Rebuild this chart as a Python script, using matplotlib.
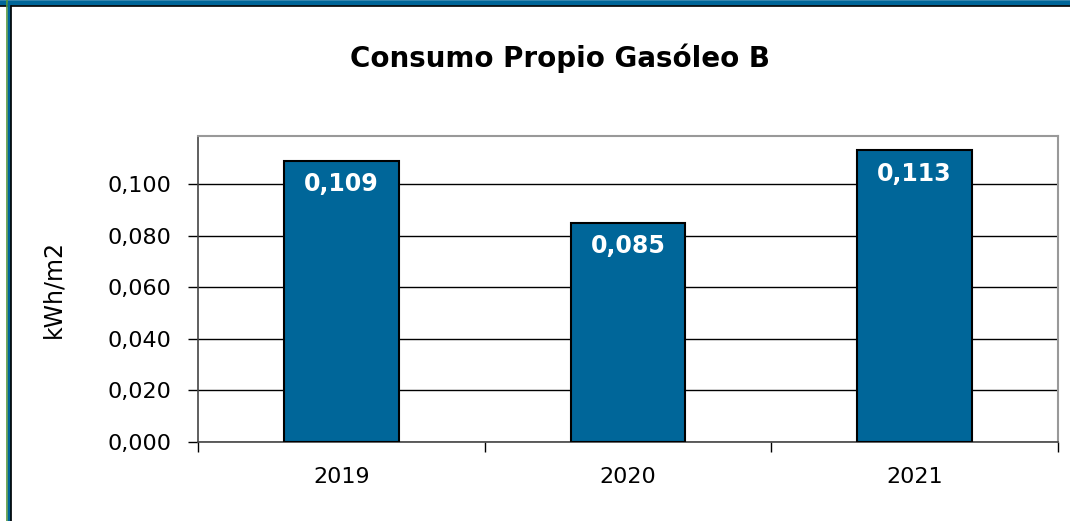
import numpy as np
import matplotlib
matplotlib.use("Agg")
import matplotlib.pyplot as plt
from matplotlib.ticker import FuncFormatter
from matplotlib.lines import Line2D

# datos
years = ["2019", "2020", "2021"]
consumo = [0.109, 0.085, 0.113]
etiquetas = ["0,109", "0,085", "0,113"]

bar_color = "#006699"

fig = plt.figure(figsize=(10.7, 5.21), dpi=100)
ax = fig.add_axes([198 / 1070, 1 - 442 / 521, 860 / 1070, 306 / 521])

x = np.arange(len(years))
bars = ax.bar(x, consumo, width=0.4, color=bar_color, edgecolor="black", linewidth=1.5, zorder=3)

for b, lab in zip(bars, etiquetas):
    ax.annotate(lab, (b.get_x() + b.get_width() / 2, b.get_height()),
                xytext=(0, -8), textcoords="offset points", ha="center", va="top",
                color="white", fontsize=17, fontweight="bold", zorder=4)

ax.set_xlim(-0.5, 2.5)
ax.set_ylim(0, 0.1186)
ax.set_yticks([0, 0.02, 0.04, 0.06, 0.08, 0.1])
ax.yaxis.set_major_formatter(FuncFormatter(lambda v, p: f"{v:.3f}".replace(".", ",")))

# ticks del eje x en los limites de categoria
ax.set_xticks([-0.5, 0.5, 1.5, 2.5])
ax.set_xticklabels([])
ax.set_xticks(x, minor=True)
ax.set_xticklabels(years, minor=True)
ax.tick_params(axis="x", which="minor", length=0, labelsize=16, pad=18)
ax.tick_params(axis="x", which="major", length=7, width=1, direction="out")
ax.tick_params(axis="y", labelsize=16, length=7, width=1, direction="out", pad=12)

ax.grid(axis="y", color="black", linewidth=1, zorder=0)
for side in ["top", "right"]:
    ax.spines[side].set_color("#999999")
    ax.spines[side].set_linewidth(1.5)
for side in ["left", "bottom"]:
    ax.spines[side].set_color("#444444")
    ax.spines[side].set_linewidth(1.2)

ax.set_ylabel("kWh/m2", fontsize=17)
ax.yaxis.set_label_coords((65 - 198) / 860, 0.5)
fig.text(560 / 1070, 1 - 58 / 521, "Consumo Propio Gasóleo B", ha="center", va="center",
         fontsize=20, fontweight="bold")

# marco exterior
fig.add_artist(Line2D([0, 1], [1 - 2.5 / 521] * 2, color="#006699", linewidth=4, transform=fig.transFigure))
fig.add_artist(Line2D([0, 1], [1 - 5.5 / 521] * 2, color="black", linewidth=1.2, transform=fig.transFigure))
fig.add_artist(Line2D([6.5 / 1070] * 2, [0, 1], color="#5a9a3a", linewidth=1.2, transform=fig.transFigure))
fig.add_artist(Line2D([9 / 1070] * 2, [0, 1 - 4 / 521], color="#006699", linewidth=2.5, transform=fig.transFigure))
fig.add_artist(Line2D([11 / 1070] * 2, [0, 1 - 5.5 / 521], color="black", linewidth=1.2, transform=fig.transFigure))

fig.savefig("out.png", dpi=100)
